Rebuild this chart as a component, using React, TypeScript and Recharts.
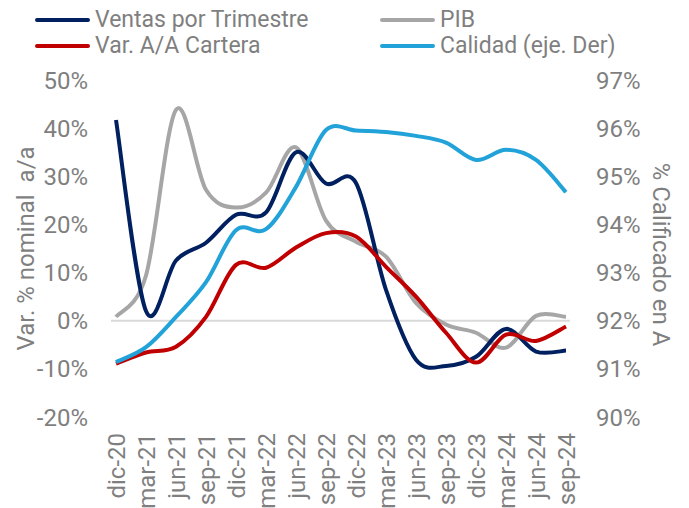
import React from 'react'
import { LineChart, Line, XAxis, YAxis, ReferenceLine } from 'recharts'

const quarters = [
  'dic-20', 'mar-21', 'jun-21', 'sep-21', 'dic-21', 'mar-22', 'jun-22', 'sep-22',
  'dic-22', 'mar-23', 'jun-23', 'sep-23', 'dic-23', 'mar-24', 'jun-24', 'sep-24',
]
const ventas = [41.7, 2.0, 12.5, 16.2, 22, 22.5, 35, 28.5, 28.6, 6.4, -8.1, -9.4, -7.5, -1.7, -6.4, -6.2]
const pib = [0.8, 9.4, 43.8, 27.2, 23.5, 26.6, 36, 20.8, 16.4, 13.3, 3.7, -0.8, -2.5, -5.6, 1.0, 0.8]
const varCartera = [-8.9, -6.6, -5.4, 0.8, 11.6, 11, 15.2, 18.2, 17.5, 11.2, 5, -2.5, -8.7, -2.9, -4.2, -1.2]
const calidad = [91.14, 91.45, 92.08, 92.8, 93.88, 93.9, 94.78, 95.96, 95.95, 95.92, 95.84, 95.7, 95.34, 95.55, 95.34, 94.67]

const leftTicks = [-20, -10, 0, 10, 20, 30, 40, 50]
const rightTicks = [90, 91, 92, 93, 94, 95, 96, 97]

const data = quarters.map((q, i) => ({
  q,
  ventas: ventas[i],
  pib: pib[i],
  varCartera: varCartera[i],
  calidad: calidad[i],
}))

const GREY = '#7f7f7f'
const FONT = 'Roboto, sans-serif'

// legend order (two columns, two rows)
const legendItems = [
  { name: 'Ventas por Trimestre', color: '#002060' },
  { name: 'PIB', color: '#a6a6a6' },
  { name: 'Var. A/A Cartera', color: '#c00000' },
  { name: 'Calidad (eje. Der)', color: '#21a2d9' },
]

// excel-like smoothed line (catmull-rom through the points)
function smoothCurve(context: any) {
  let pts: number[][] = []
  return {
    areaStart() {},
    areaEnd() {},
    lineStart() {
      pts = []
    },
    point(x: number, y: number) {
      pts.push([+x, +y])
    },
    lineEnd() {
      if (!pts.length) return
      context.moveTo(pts[0][0], pts[0][1])
      for (let i = 0; i < pts.length - 1; i++) {
        const p0 = pts[i - 1] || pts[i]
        const p1 = pts[i]
        const p2 = pts[i + 1]
        const p3 = pts[i + 2] || p2
        context.bezierCurveTo(
          p1[0] + (p2[0] - p0[0]) / 6,
          p1[1] + (p2[1] - p0[1]) / 6,
          p2[0] - (p3[0] - p1[0]) / 6,
          p2[1] - (p3[1] - p1[1]) / 6,
          p2[0],
          p2[1]
        )
      }
    },
  }
}

const XTick = ({ x, y, payload }: any) => (
  <text
    x={x}
    y={y}
    dy="0.36em"
    transform={`rotate(-90, ${x}, ${y})`}
    textAnchor="end"
    fill={GREY}
    fontSize={24}
    fontFamily={FONT}
  >
    {payload.value}
  </text>
)

function LegendBox() {
  return (
    <div style={{ position: 'absolute', left: 0, top: 7, width: 689, fontFamily: FONT, fontSize: 23, color: GREY }}>
      {legendItems.map((it, i) => (
        <div
          key={it.name}
          style={{
            position: 'absolute',
            left: i % 2 === 0 ? 35 : 380,
            top: Math.floor(i / 2) * 26,
            height: 26,
            lineHeight: '26px',
            display: 'flex',
            alignItems: 'center',
            whiteSpace: 'nowrap',
          }}
        >
          <span style={{ display: 'inline-block', width: 55, height: 4, borderRadius: 2, background: it.color, marginRight: 5 }} />
          <span>{it.name}</span>
        </div>
      ))}
    </div>
  )
}

export default function App() {
  return (
    <div style={{ position: 'absolute', left: 0, top: 0, width: 689, height: 508, background: '#fff' }}>
      <LegendBox />
      <LineChart width={689} height={508} data={data} margin={{ top: 80, right: 0, bottom: 0, left: 0 }}>
        <XAxis
          dataKey="q"
          interval={0}
          axisLine={false}
          tickLine={false}
          tickSize={0}
          tickMargin={16}
          height={91}
          padding={{ left: 5, right: 4 }}
          tick={<XTick />}
        />
        <YAxis
          yAxisId="left"
          domain={[-20, 50]}
          ticks={leftTicks}
          tickFormatter={(v) => `${v}%`}
          axisLine={false}
          tickLine={false}
          tickSize={0}
          tickMargin={23}
          width={111}
          tick={{ fill: GREY, fontSize: 24, fontFamily: FONT }}
          label={{
            value: 'Var. % nominal \u00a0a/a',
            angle: -90,
            position: 'center',
            dx: -30,
            fill: GREY,
            fontSize: 24,
            fontFamily: FONT,
          }}
        />
        <YAxis
          yAxisId="right"
          orientation="right"
          domain={[90, 97]}
          ticks={rightTicks}
          tickFormatter={(v) => `${v}%`}
          axisLine={false}
          tickLine={false}
          tickSize={0}
          tickMargin={26}
          width={119}
          tick={{ fill: GREY, fontSize: 24, fontFamily: FONT }}
          label={{
            value: '% Calificado en A',
            angle: 90,
            position: 'center',
            dx: 32,
            dy: 6,
            fill: GREY,
            fontSize: 24,
            fontFamily: FONT,
          }}
        />
        <ReferenceLine yAxisId="left" y={0} stroke="#d9d9d9" strokeWidth={2} />
        <Line yAxisId="left" dataKey="pib" name="PIB" stroke="#a6a6a6" strokeWidth={4} type={smoothCurve as any} dot={false} isAnimationActive={false} />
        <Line yAxisId="left" dataKey="ventas" name="Ventas por Trimestre" stroke="#002060" strokeWidth={4} type={smoothCurve as any} dot={false} isAnimationActive={false} />
        <Line yAxisId="left" dataKey="varCartera" name="Var. A/A Cartera" stroke="#c00000" strokeWidth={4} type={smoothCurve as any} dot={false} isAnimationActive={false} />
        <Line yAxisId="right" dataKey="calidad" name="Calidad (eje. Der)" stroke="#21a2d9" strokeWidth={4} type={smoothCurve as any} dot={false} isAnimationActive={false} />
      </LineChart>
    </div>
  )
}
